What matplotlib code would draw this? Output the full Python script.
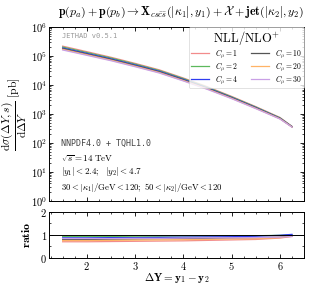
import numpy as np
import matplotlib
matplotlib.use("Agg")
import matplotlib.pyplot as plt
from matplotlib.ticker import MultipleLocator, LogLocator, NullFormatter

plt.rcParams["mathtext.fontset"] = "cm"
plt.rcParams["font.family"] = "serif"
plt.rcParams["font.serif"] = ["DejaVu Serif"]

dY = [1.5, 2.0, 2.5, 3.0, 3.5, 4.0, 4.5, 5.0, 5.5, 6.0, 6.25]

# d sigma / d DeltaY [pb], one list per scale choice
xs_c1 = [2.2e5, 1.42e5, 9.1e4, 5.6e4, 3.35e4, 1.75e4, 8.7e3, 4.05e3, 1.8e3, 760, 375]
xs_c2 = [2.05e5, 1.33e5, 8.6e4, 5.3e4, 3.18e4, 1.67e4, 8.35e3, 3.9e3, 1.74e3, 740, 370]
xs_c4 = [1.9e5, 1.24e5, 8.0e4, 4.95e4, 2.98e4, 1.57e4, 7.9e3, 3.72e3, 1.67e3, 715, 364]
xs_c10 = [1.8e5, 1.17e5, 7.6e4, 4.7e4, 2.84e4, 1.5e4, 7.6e3, 3.6e3, 1.62e3, 700, 360]
xs_c20 = [1.7e5, 1.11e5, 7.2e4, 4.46e4, 2.7e4, 1.43e4, 7.3e3, 3.47e3, 1.57e3, 685, 356]
xs_c30 = [1.62e5, 1.06e5, 6.9e4, 4.28e4, 2.6e4, 1.38e4, 7.05e3, 3.38e3, 1.53e3, 672, 352]

ratio_c1 = [0.70, 0.70, 0.71, 0.72, 0.73, 0.74, 0.76, 0.78, 0.80, 0.86, 0.93]
ratio_c2 = [0.93, 0.93, 0.93, 0.94, 0.94, 0.95, 0.95, 0.96, 0.96, 0.98, 1.00]
ratio_c4 = [0.87, 0.87, 0.88, 0.88, 0.89, 0.90, 0.91, 0.92, 0.94, 0.98, 1.02]
ratio_c10 = [0.80, 0.80, 0.81, 0.82, 0.83, 0.84, 0.85, 0.86, 0.87, 0.90, 0.95]
ratio_c20 = [0.75, 0.75, 0.76, 0.77, 0.78, 0.79, 0.80, 0.82, 0.83, 0.88, 0.94]
ratio_c30 = [0.84, 0.84, 0.84, 0.85, 0.85, 0.86, 0.87, 0.87, 0.88, 0.90, 0.93]

labels = [r"$C_\mu = 1$", r"$C_\mu = 2$", r"$C_\mu = 4$",
          r"$C_\mu = 10$", r"$C_\mu = 20$", r"$C_\mu = 30$"]
colors = ["#f28b8b", "#5cb85c", "#2f3cf0", "#555555", "#ffb366", "#c9a0e6"]
xs_all = [xs_c1, xs_c2, xs_c4, xs_c10, xs_c20, xs_c30]
ratio_all = [ratio_c1, ratio_c2, ratio_c4, ratio_c10, ratio_c20, ratio_c30]

fig = plt.figure(figsize=(3.09, 2.85), dpi=100)
ax = fig.add_axes([0.159, 0.295, 0.825, 0.610])
axr = fig.add_axes([0.159, 0.095, 0.825, 0.162])

for ys, c, lab in zip(xs_all, colors, labels):
    ax.plot(dY, ys, color=c, lw=0.9, label=lab)
for ys, c in zip(ratio_all, colors):
    axr.plot(dY, ys, color=c, lw=0.9)
axr.axhline(1.0, color="black", lw=0.7)

ax.set_yscale("log")
ax.set_ylim(1, 1e6)
ax.set_xlim(1.22, 6.5)
axr.set_xlim(1.22, 6.5)
axr.set_ylim(0, 2)
ax.yaxis.set_minor_locator(LogLocator(base=10, subs=np.arange(2, 10), numticks=20))
ax.yaxis.set_minor_formatter(NullFormatter())
for a in (ax, axr):
    a.xaxis.set_major_locator(MultipleLocator(1))
    a.xaxis.set_minor_locator(MultipleLocator(0.25))
    a.tick_params(which="both", direction="in", top=True, right=True, labelsize=7.5, pad=1.5)
    a.tick_params(which="major", length=3, width=0.6)
    a.tick_params(which="minor", length=1.5, width=0.5)
    for s in a.spines.values():
        s.set_linewidth(0.7)
axr.yaxis.set_minor_locator(MultipleLocator(0.5))
ax.set_xticklabels([])
ax.set_yticks([1, 10, 100, 1e3, 1e4, 1e5, 1e6])
ax.set_yticklabels([r"$\mathbf{10^{%d}}$" % k for k in range(7)])
axr.set_yticks([0, 1, 2])
axr.set_yticklabels([r"$\mathbf{0}$", r"$\mathbf{1}$", r"$\mathbf{2}$"])
axr.set_xticks([2, 3, 4, 5, 6])
axr.set_xticklabels([r"$\mathbf{%d}$" % k for k in range(2, 7)])

ax.set_ylabel(r"$\dfrac{\mathrm{d}\sigma(\Delta Y, s)}{\mathrm{d}\Delta Y}\ [\mathrm{pb}]$",
              fontsize=8.3, labelpad=1)
axr.set_ylabel(r"$\mathbf{ratio}$", fontsize=8.5, labelpad=5)
axr.set_xlabel(r"$\mathbf{\Delta Y = y_1 - y_2}$", fontsize=8, labelpad=-0.5)

fig.text(0.585, 0.955,
         r"$\mathbf{p}(p_a) + \mathbf{p}(p_b) \rightarrow \mathbf{X}_{cs\bar{c}\bar{s}}(|\kappa_1|, y_1)"
         r" + \mathcal{X} + \mathbf{jet}(|\kappa_2|, y_2)$",
         ha="center", va="center", fontsize=8.6)

ax.text(0.05, 0.965, "JETHAD v0.5.1", transform=ax.transAxes, family="monospace",
        fontsize=5, color="#999999", va="top")
ax.text(0.045, 0.33, "NNPDF4.0 + TQHL1.0", transform=ax.transAxes, family="monospace",
        fontsize=6, color="#444444", va="center")
ax.text(0.045, 0.245, r"$\sqrt{s} = 14\ \mathrm{TeV}$", transform=ax.transAxes,
        fontsize=6.5, va="center")
ax.text(0.045, 0.17, r"$|y_1| < 2.4;\ \ |y_2| < 4.7$", transform=ax.transAxes,
        fontsize=6.5, va="center")
ax.text(0.045, 0.08,
        r"$30 < |\kappa_1|/\mathrm{GeV} < 120;\ 50 < |\kappa_2|/\mathrm{GeV} < 120$",
        transform=ax.transAxes, fontsize=6.3, va="center")

leg = ax.legend(loc="upper right", ncol=2, fontsize=5.5, title=r"$\mathrm{NLL/NLO^{+}}$",
                title_fontsize=9, frameon=True, handlelength=2.4, columnspacing=1.6,
                labelspacing=0.0, handleheight=0.5, borderaxespad=0.0, borderpad=0.25,
                fancybox=True)
leg.get_frame().set_linewidth(0.5)

fig.savefig("out.png", dpi=100)
